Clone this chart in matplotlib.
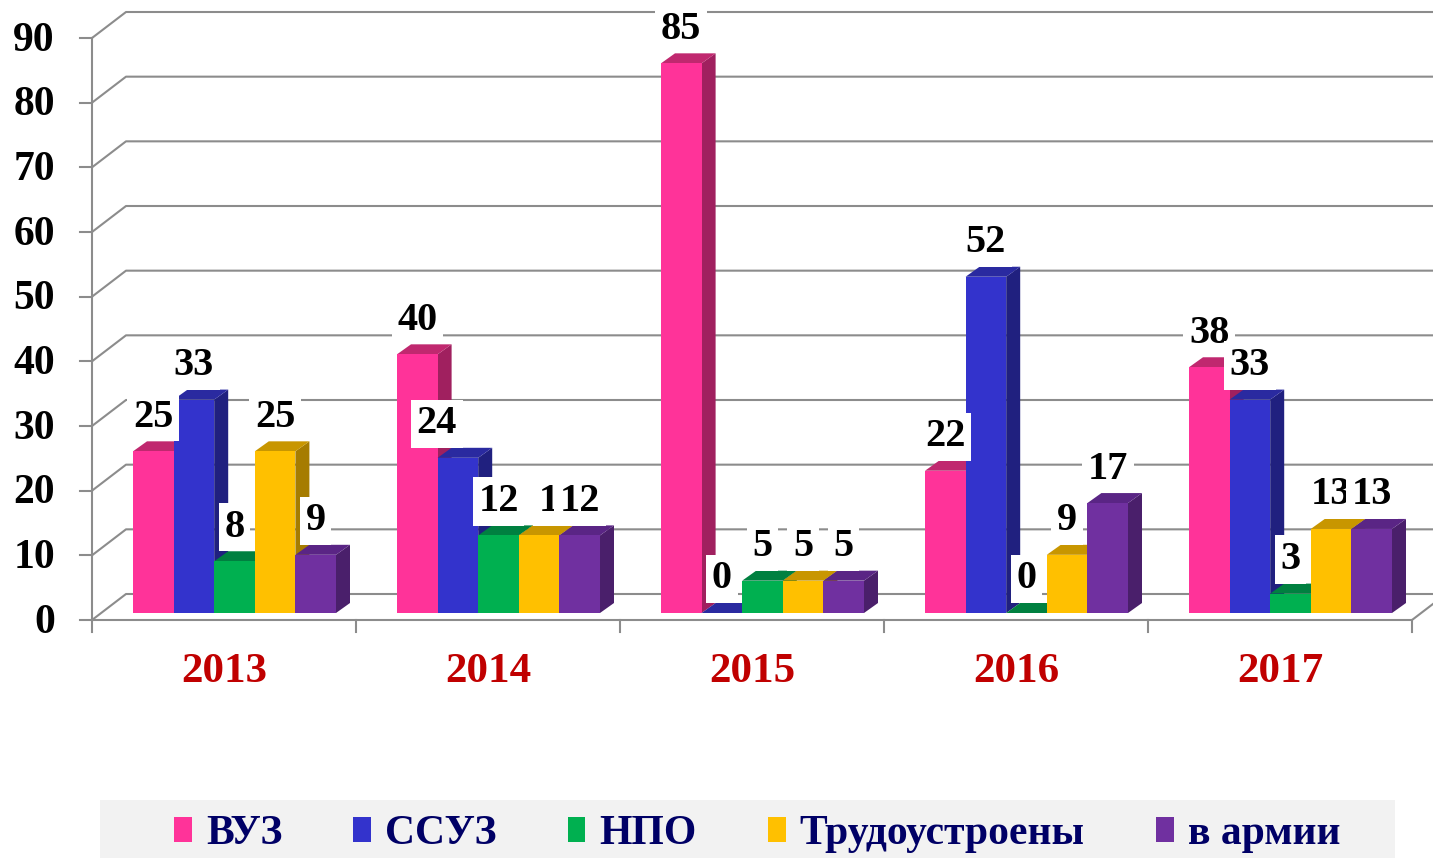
import numpy as np
import matplotlib.pyplot as plt
from matplotlib.patches import Polygon, Rectangle

# --- data ---
years = ['2013', '2014', '2015', '2016', '2017']
series = ['ВУЗ', 'ССУЗ', 'НПО', 'Трудоустроены', 'в армии']
vuz = [25, 40, 85, 22, 38]
ssuz = [33, 24, 0, 52, 33]
npo = [8, 12, 5, 0, 3]
trud = [25, 12, 5, 9, 13]
army = [9, 12, 5, 17, 13]
yticks = list(range(0, 100, 10))

values = [vuz, ssuz, npo, trud, army]

# front / side / top shades per series
front_cols = ['#FF3399', '#3333CC', '#00B050', '#FFC000', '#7030A0']
side_cols = ['#A0205F', '#20207F', '#00703A', '#A67C00', '#4A1F6B']
top_cols = ['#C0286F', '#2A2AA0', '#008040', '#C89600', '#5A2585']

serif = ['Liberation Serif', 'DejaVu Serif']
grid_col = '#8C8C8C'

W, H = 1433, 858
fig = plt.figure(figsize=(W / 100, H / 100), dpi=100)
ax = fig.add_axes([0, 0, 1, 1])
ax.set_axis_off()

# pixel geometry of the pseudo-3D frame
px_cat = 264.0          # pixels per category
px_unit = 582.0 / 90    # pixels per value unit
x0_px, y0_px = 92, 620
ax.set_xlim(-x0_px / px_cat, (W - x0_px) / px_cat)
ax.set_ylim((y0_px - H) / px_unit, y0_px / px_unit)

DX, DY = 34 / px_cat, 26 / px_unit       # back wall depth
SX, SY = 14 / px_cat, 10 / px_unit       # bar depth
BY = 7 / px_unit                         # bar base lift
bw = 40.6 / px_cat                       # bar width
g0 = 41 / px_cat                         # first bar offset inside category
ncat = len(years)
xmax = ax.get_xlim()[1]

# gridlines with the back wall
for v in yticks:
    ax.plot([0, DX, xmax], [v, v + DY, v + DY], color=grid_col, lw=1.5, zorder=1,
            solid_capstyle='butt')
    ax.plot([-12 / px_cat, 0], [v, v], color=grid_col, lw=1.5, zorder=1)
ax.plot([0, 0], [0, yticks[-1]], color=grid_col, lw=1.5, zorder=1)
ax.plot([0, ncat, ncat + DX], [0, 0, DY], color=grid_col, lw=1.5, zorder=1)
for i in range(ncat + 1):
    ax.plot([i, i], [0, -12 / px_unit], color=grid_col, lw=1.5, zorder=1)

# y tick labels
for v in yticks:
    ax.text(-37 / px_cat, v - 0.4, str(v), ha='right', va='center', fontsize=30,
            fontweight='bold', family=serif, color='black')

# category labels
for i, yr in enumerate(years):
    ax.text(i + 0.5, -52 / px_unit, yr, ha='center', va='center', fontsize=31,
            fontweight='bold', family=serif, color='#C00000')

# bars
z = 10
for i in range(ncat):
    for j, vals in enumerate(values):
        v = vals[i]
        xl = i + g0 + j * bw
        xr = xl + bw
        yb, yt = BY, BY + v
        side = Polygon([(xr, yb), (xr + SX, yb + SY), (xr + SX, yt + SY), (xr, yt)],
                       closed=True, fc=side_cols[j], ec='none', zorder=z)
        top = Polygon([(xl, yt), (xl + SX, yt + SY), (xr + SX, yt + SY), (xr, yt)],
                      closed=True, fc=top_cols[j], ec='none', zorder=z + 1)
        front = Rectangle((xl, yb), bw, v, fc=front_cols[j], ec='none', zorder=z + 2)
        ax.add_patch(side)
        ax.add_patch(top)
        ax.add_patch(front)
        z += 3

# data labels (two labels of 2014 were dragged sideways in the original)
nudge = {(1, 1): -21 / px_cat, (1, 3): 20 / px_cat}
for i in range(ncat):
    for j, vals in enumerate(values):
        v = vals[i]
        xc = i + g0 + (j + 0.5) * bw + nudge.get((i, j), 0)
        ax.text(xc, BY + v + 34 / px_unit, str(v), ha='center', va='center',
                fontsize=29, fontweight='bold', family=serif, color='black',
                zorder=500 + i * 5 + j,
                bbox=dict(boxstyle='square,pad=0.14', fc='white', ec='none'))

# legend
fig.patches.append(Rectangle((100 / W, 0), 1295 / W, 58 / H, transform=fig.transFigure,
                             fc='#F2F2F2', ec='none', zorder=0))
handles = [Rectangle((0, 0), 1, 1, fc=c, ec='none') for c in front_cols]
leg = fig.legend(handles, series, loc='center', bbox_to_anchor=(757 / W, 1 - 834 / H),
                 ncol=5, frameon=False, handlelength=0.43, handleheight=0.53,
                 handletextpad=0.34, columnspacing=1.7,
                 prop={'family': serif, 'weight': 'bold', 'size': 30})
for t in leg.get_texts():
    t.set_color('#000066')

fig.savefig('out.png', dpi=100)
